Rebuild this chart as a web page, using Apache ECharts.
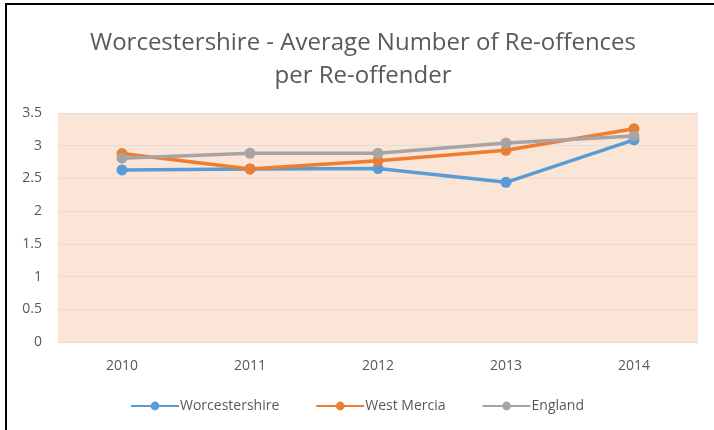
<!DOCTYPE html>
<html>
<head>
<meta charset="utf-8">
<script src="https://cdn.jsdelivr.net/npm/echarts@6/dist/echarts.min.js"></script>
<style>
  html, body { margin: 0; padding: 0; background: #fff; }
  #frame { position: absolute; left: 0; top: 0; width: 714px; height: 430px; }
  #edge { position: absolute; left: 5px; top: 3px; width: 709px; height: 427px;
          border-left: 2px solid #000; border-top: 2px solid #000; box-sizing: border-box; }
  #main { position: absolute; left: 0; top: 0; width: 714px; height: 430px; }
</style>
</head>
<body>
<div id="frame">
  <div id="main"></div>
  <div id="edge"></div>
</div>
<script>
const years = ["2010", "2011", "2012", "2013", "2014"];
const worcestershire = [2.63, 2.645, 2.65, 2.44, 3.09];
const westMercia = [2.88, 2.645, 2.77, 2.93, 3.26];
const england = [2.81, 2.885, 2.885, 3.04, 3.15];
const yTicks = [0, 0.5, 1, 1.5, 2, 2.5, 3, 3.5];

const fontName = "Open Sans";
const textColor = "#595959";

function lineSeries(name, data, color) {
    return {
        name: name,
        type: "line",
        data: data,
        symbol: "circle",
        symbolSize: 11,
        lineStyle: { color: color, width: 3.5 },
        itemStyle: { color: color },
        z: 3
    };
}

var myChart = echarts.init(document.getElementById("main"));
var option = {
    animation: false,
    title: {
        text: "Worcestershire - Average Number of Re-offences\nper Re-offender",
        left: 358,
        top: 22,
        textAlign: "center",
        textStyle: { fontFamily: fontName, fontSize: 24, fontWeight: "normal", color: textColor, lineHeight: 33 }
    },
    legend: {
        bottom: 12,
        left: "center",
        itemWidth: 48,
        itemHeight: 11,
        itemGap: 36,
        textStyle: { fontFamily: fontName, fontSize: 14, color: textColor, padding: [0, 0, 0, -4] },
        data: ["Worcestershire", "West Mercia", "England"]
    },
    grid: { left: 58, right: 16, top: 113, bottom: 88, containLabel: false,
            show: true, backgroundColor: "#fbe5d6", borderWidth: 0 },
    xAxis: {
        type: "category",
        data: years,
        boundaryGap: true,
        axisLine: { show: false },
        axisTick: { show: false },
        axisLabel: { fontFamily: fontName, fontSize: 14, color: textColor, margin: 17 }
    },
    yAxis: {
        type: "value",
        min: yTicks[0],
        max: yTicks[yTicks.length - 1],
        interval: 0.5,
        axisLine: { show: false },
        axisTick: { show: false },
        splitLine: { lineStyle: { color: "#e6dcd6", width: 1 } },
        axisLabel: { fontFamily: fontName, fontSize: 14, color: textColor, margin: 16 }
    },
    series: [
        lineSeries("Worcestershire", worcestershire, "#5b9bd5"),
        lineSeries("West Mercia", westMercia, "#ed7d31"),
        lineSeries("England", england, "#a5a5a5")
    ]
};
myChart.setOption(option);
</script>
</body>
</html>
